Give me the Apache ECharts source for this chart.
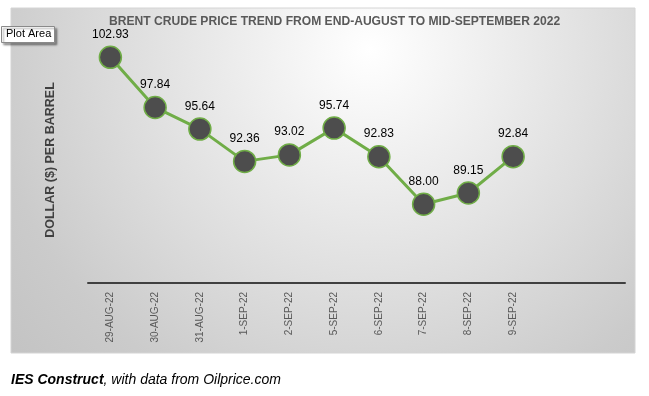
<!DOCTYPE html>
<html>
<head>
<meta charset="utf-8">
<script src="https://cdn.jsdelivr.net/npm/echarts@6/dist/echarts.min.js"></script>
<style>html,body{margin:0;padding:0;background:#fff;}#c{width:649px;height:396px;}</style>
</head>
<body>
<div id="c"></div>
<script>
const categories = ['29-AUG-22','30-AUG-22','31-AUG-22','1-SEP-22','2-SEP-22','5-SEP-22','6-SEP-22','7-SEP-22','8-SEP-22','9-SEP-22','',''];
const prices = [102.93, 97.84, 95.64, 92.36, 93.02, 95.74, 92.83, 88.00, 89.15, 92.84];
const titleText = 'BRENT CRUDE PRICE TREND FROM END-AUGUST TO MID-SEPTEMBER 2022';
const yName = 'DOLLAR ($) PER BARREL';
const captionBold = 'IES Construct';
const captionRest = ', with data from Oilprice.com';

const chart = echarts.init(document.getElementById('c'), null, {renderer: 'canvas'});
chart.setOption({
  backgroundColor: '#ffffff',
  animation: false,
  grid: {left: 88, right: 24, top: 37, bottom: 113, containLabel: false},
  xAxis: {
    type: 'category',
    data: categories,
    boundaryGap: true,
    axisLine: {show: true, lineStyle: {color: '#404040', width: 2}},
    axisTick: {show: false},
    axisLabel: {rotate: 90, interval: 0, margin: 9, color: '#595959', fontFamily: 'Liberation Sans', fontSize: 10}
  },
  yAxis: {
    type: 'value', min: 80, max: 105,
    name: yName, nameLocation: 'middle', nameGap: 31, nameRotate: 90,
    nameTextStyle: {fontFamily: 'Liberation Sans', fontWeight: 'bold', fontSize: 12.5, color: '#404040'},
    axisLine: {show: false}, axisTick: {show: false}, axisLabel: {show: false}, splitLine: {show: false}
  },
  series: [{
    type: 'line',
    data: prices,
    symbol: 'circle', symbolSize: 22,
    lineStyle: {color: '#70AD47', width: 3},
    itemStyle: {color: '#4d4d4d', borderColor: '#70AD47', borderWidth: 1.5},
    label: {show: true, position: 'top', distance: 5, color: '#000', fontFamily: 'Liberation Sans', fontSize: 12,
      formatter: p => Number(p.value).toFixed(2)}
  }],
  graphic: [
    {type: 'rect', z: -10, shape: {x: 11, y: 8, width: 624, height: 345},
      style: {fill: new echarts.graphic.RadialGradient(0.575, 0.12, 1.37, [
        {offset: 0, color: '#ffffff'}, {offset: 0.8, color: '#cbcbcb'}, {offset: 1, color: '#c3c3c3'}]),
        stroke: '#d4d4d4', lineWidth: 1}},
    {type: 'text', z: 50, x: 109, y: 15, scaleX: 0.93, style: {text: titleText,
      fontFamily: 'Liberation Sans', fontWeight: 'bold', fontSize: 13, fill: '#595959'}},
    {type: 'rect', z: 100, shape: {x: 1.5, y: 26.5, width: 53, height: 16},
      style: {fill: '#ffffff', stroke: '#8a8a8a', lineWidth: 1, shadowColor: 'rgba(0,0,0,0.35)', shadowOffsetX: 2, shadowOffsetY: 2, shadowBlur: 2}},
    {type: 'text', z: 101, x: 6, y: 28, style: {text: 'Plot Area', fontFamily: 'Liberation Sans', fontSize: 11, fill: '#000'}},
    {type: 'text', z: 101, x: 11, y: 373, style: {
      text: '{b|' + captionBold + '}{n|' + captionRest + '}',
      rich: {
        b: {fontFamily: 'Liberation Sans', fontWeight: 'bold', fontStyle: 'italic', fontSize: 14, color: '#000'},
        n: {fontFamily: 'Liberation Sans', fontStyle: 'italic', fontSize: 14, color: '#000'}
      }}}
  ]
});
</script>
</body>
</html>
